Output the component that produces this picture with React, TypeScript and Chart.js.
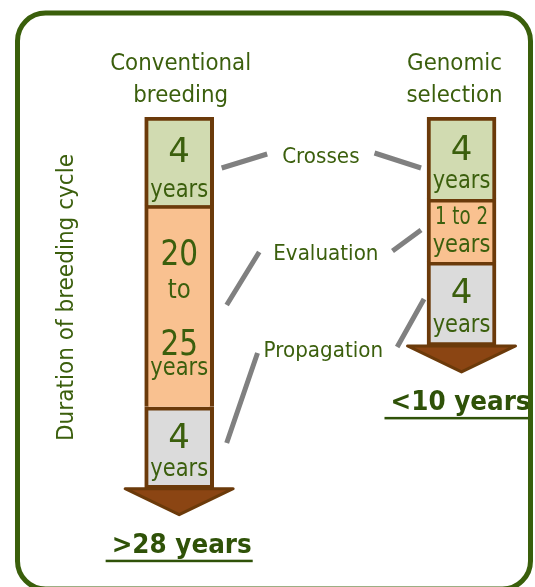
import React, { useEffect, useRef } from 'react';
import { Chart, registerables } from 'chart.js';

Chart.register(...registerables);

// ---- data ----
const programs = ['Conventional\nbreeding', 'Genomic\nselection'];
const stages = ['Crosses', 'Evaluation', 'Propagation'];
// schematic segment lengths as drawn in the diagram (diagram units)
const conventionalLengths = [4.2, 9.6, 3.9];
const genomicLengths = [3.9, 3.0, 4.0];
const conventionalLabels = [['4', 'years'], ['20', 'to', '25', 'years'], ['4', 'years']];
const genomicLabels = [['4', 'years'], ['1 to 2', 'years'], ['4', 'years']];
const totals = ['>28 years', '<10 years'];
const axisTitle = 'Duration of breeding cycle';

// ---- styles ----
const stageColors = ['#d1dbb1', '#f9c190', '#dbdbdb'];
const barBorder = '#6b3a0a';
const textGreen = '#3b5f0d';
const darkGreen = '#2f5208';
const frameGreen = '#3a5f0b';
const FONT = '"DejaVu Sans"';

function drawText(ctx: CanvasRenderingContext2D, text: string, x: number, y: number, size: number, sx: number, color: string, bold = false, align: CanvasTextAlign = 'center') {
  ctx.save();
  ctx.font = `${bold ? 'bold ' : ''}${size}px ${FONT}`;
  ctx.fillStyle = color;
  ctx.textBaseline = 'alphabetic';
  ctx.textAlign = align;
  ctx.translate(x, y);
  ctx.scale(sx, 1);
  ctx.fillText(text, 0, 0);
  const w = ctx.measureText(text).width * sx;
  ctx.restore();
  return w;
}

function lineStyle(t: string) {
  if (t === 'years') return { size: 25, sx: 0.84 };
  if (t === 'to') return { size: 27, sx: 0.85 };
  if (t === '1 to 2') return { size: 24, sx: 0.76 };
  if (t.length === 1) return { size: 34, sx: 1 };
  return { size: 36, sx: 0.82 };
}

// baseline offsets of text lines from the top of each segment
const segOffsets = [
  [[44.7, 80], [60, 93, 150, 170], [41.3, 69]],
  [[43, 71], [25, 53], [41, 70]],
];

const diagramPlugin = {
  id: 'diagram',
  beforeDraw(chart: any) {
    const ctx = chart.ctx as CanvasRenderingContext2D;
    ctx.save();
    ctx.fillStyle = '#ffffff';
    ctx.fillRect(0, 0, chart.width, chart.height);
    ctx.restore();
  },
  afterDatasetsDraw(chart: any) {
    const ctx = chart.ctx as CanvasRenderingContext2D;
    const area = chart.chartArea;
    const rect = (ds: number, col: number) => {
      const el = chart.getDatasetMeta(ds).data[col];
      const p = el.getProps(['x', 'y', 'base', 'width'], true);
      return { cx: p.x, left: p.x - p.width / 2, right: p.x + p.width / 2, top: Math.min(p.y, p.base), bottom: Math.max(p.y, p.base) };
    };
    const cols = [0, 1].map(c => [0, 1, 2].map(s => rect(s, c)));
    const labelSets = [conventionalLabels, genomicLabels];

    // segment texts
    cols.forEach((segs, c) => {
      segs.forEach((r, s) => {
        labelSets[c][s].forEach((t, k) => {
          const st = lineStyle(t);
          drawText(ctx, t, r.cx, r.top + segOffsets[c][s][k], st.size, st.sx, textGreen);
        });
      });
    });

    // arrows
    cols.forEach(segs => {
      const r = segs[2];
      const b = r.bottom;
      ctx.save();
      ctx.beginPath();
      ctx.moveTo(r.cx - 54, b);
      ctx.lineTo(r.cx + 54, b);
      ctx.lineTo(r.cx, b + 26);
      ctx.closePath();
      ctx.fillStyle = '#8b4513';
      ctx.fill();
      ctx.lineJoin = 'round';
      ctx.lineWidth = 3;
      ctx.strokeStyle = barBorder;
      ctx.stroke();
      ctx.restore();
    });

    // program titles
    const titleDx = [1.5, -7];
    cols.forEach((segs, c) => {
      const lines = programs[c].split('\n');
      lines.forEach((ln, k) => {
        drawText(ctx, ln, segs[0].cx + titleDx[c], area.top - 47 + k * 32, 23, 0.93, textGreen);
      });
    });

    // totals
    cols.forEach((segs, c) => {
      const r = segs[2];
      const base = r.bottom + 26 + 38;
      const cx = r.cx + (c === 0 ? 2.5 : -1);
      const w = drawText(ctx, totals[c], cx, base, 26, 0.95, darkGreen, true);
      ctx.save();
      ctx.fillStyle = darkGreen;
      ctx.fillRect(cx - w / 2 - 6, base + 7, w + 7, 2.5);
      ctx.restore();
    });

    // stage labels and connectors
    const convRight = cols[0][0].right;
    const genLeft = cols[1][0].left;
    const mid = (cols[0][0].cx + cols[1][0].cx) / 2;
    const labelDx = [0.5, 5.5, 3];
    const labelDy = [46, 143, 240];
    // [innerDx, innerDy, outerDx, outerDy] for left and right connectors
    const conn = [
      { l: [-15, -9, 8, 5], r: [15, -10, -6, 5] },
      { l: [-14, -8, 13, 45], r: [14, -9, -6, -30] },
      { l: [-6, -4, 13, 86], r: [14, -10, -3, -58] },
    ];
    stages.forEach((s, i) => {
      const cx = mid + labelDx[i];
      const by = area.top + labelDy[i];
      const w = drawText(ctx, s, cx, by, 21, 0.95, textGreen);
      const L = cx - w / 2;
      const R = cx + w / 2;
      const c = conn[i];
      ctx.save();
      ctx.strokeStyle = '#808080';
      ctx.lineWidth = 5;
      ctx.lineCap = 'butt';
      ctx.beginPath();
      ctx.moveTo(L + c.l[0], by + c.l[1]);
      ctx.lineTo(convRight + c.l[2], by + c.l[3]);
      ctx.moveTo(R + c.r[0], by + c.r[1]);
      ctx.lineTo(genLeft + c.r[2], by + c.r[3]);
      ctx.stroke();
      ctx.restore();
    });

    // axis title
    ctx.save();
    ctx.translate(73, 297.5);
    ctx.rotate(-Math.PI / 2);
    drawText(ctx, axisTitle, 0, 0, 23.5, 0.92, textGreen);
    ctx.restore();

    // frame
    ctx.save();
    const fx = 17.5, fy = 13, fw = 513, fh = 576, rad = 28;
    ctx.beginPath();
    ctx.moveTo(fx + rad, fy);
    ctx.lineTo(fx + fw - rad, fy);
    ctx.arcTo(fx + fw, fy, fx + fw, fy + rad, rad);
    ctx.lineTo(fx + fw, fy + fh - rad);
    ctx.arcTo(fx + fw, fy + fh, fx + fw - rad, fy + fh, rad);
    ctx.lineTo(fx + rad, fy + fh);
    ctx.arcTo(fx, fy + fh, fx, fy + fh - rad, rad);
    ctx.lineTo(fx, fy + rad);
    ctx.arcTo(fx, fy, fx + rad, fy, rad);
    ctx.closePath();
    ctx.lineWidth = 5;
    ctx.strokeStyle = frameGreen;
    ctx.stroke();
    ctx.restore();
  },
};

export default function App() {
  const canvasRef = useRef<HTMLCanvasElement | null>(null);

  useEffect(() => {
    if (!canvasRef.current) return;
    const chart = new Chart(canvasRef.current, {
      type: 'bar',
      data: {
        datasets: stages.map((s, i) => ({
          label: s,
          data: [
            { x: 0, y: conventionalLengths[i] },
            { x: 1, y: genomicLengths[i] },
          ],
          backgroundColor: stageColors[i],
          borderColor: barBorder,
          borderWidth: { top: 4, left: 4, right: 4, bottom: i === 2 ? 4 : 0 },
          borderSkipped: false,
          barThickness: 69,
        })),
      } as any,
      options: {
        animation: false,
        responsive: false,
        devicePixelRatio: 1,
        layout: { padding: { left: 38, right: 17, top: 117, bottom: 50 } },
        plugins: {
          legend: { display: false },
          tooltip: { enabled: false },
          title: { display: false },
        },
        scales: {
          x: { type: 'linear', min: -0.5, max: 1.2, offset: false, grid: { offset: false }, stacked: true, display: false },
          y: { type: 'linear', min: 0, max: 20, reverse: true, stacked: true, display: false },
        },
      } as any,
      plugins: [diagramPlugin],
    });
    return () => chart.destroy();
  }, []);

  return (
    <div style={{ position: 'absolute', left: 0, top: 0, width: 535, height: 587, background: '#fff' }}>
      <canvas ref={canvasRef} width={535} height={587} style={{ display: 'block' }} />
    </div>
  );
}
